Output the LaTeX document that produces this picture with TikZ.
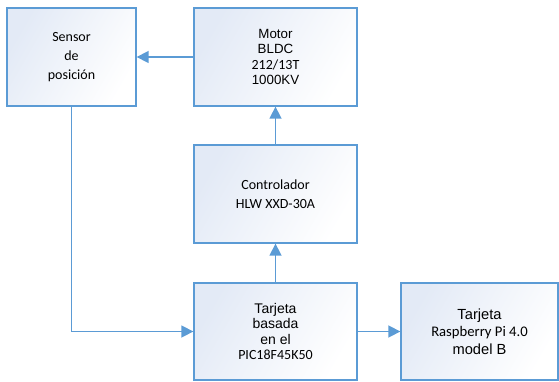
\documentclass[tikz,border=0pt]{standalone}
\usepackage{fontspec}
\setmainfont{Carlito}
\newfontfamily\arialf{Liberation Sans}
\usetikzlibrary{arrows.meta}
\definecolor{edgeblue}{HTML}{5B9BD5}
\definecolor{fillblue}{HTML}{E3EAF6}
\tikzset{
  blockbox/.style={draw=edgeblue, line width=1pt, left color=fillblue, right color=white, shading angle=60, align=center, inner sep=0pt, text=black},
  conn/.style={draw=edgeblue, line width=1.2pt, -{Triangle[length=9pt,width=9pt]}},
}
\begin{document}
\begin{tikzpicture}[x=0.75pt,y=-0.75pt]
\useasboundingbox (0,0) rectangle (559,381);
\node[blockbox, minimum width=129*0.75pt, minimum height=98*0.75pt, font=\fontsize{10.5}{14.3}\selectfont] (sensor) at (71.5,57) {Sensor\\de\\posición};
\node[blockbox, minimum width=163*0.75pt, minimum height=98*0.75pt, font=\arialf\fontsize{10}{11.3}\selectfont] (motor) at (275.5,57) {Motor\\BLDC\\\rmfamily\fontsize{10.5}{11.3}\selectfont 212/13T\\1000KV};
\node[blockbox, minimum width=163*0.75pt, minimum height=98*0.75pt, font=\fontsize{10.5}{14.3}\selectfont] (ctrl) at (275.5,194) {Controlador\\HLW XXD-30A};
\node[blockbox, minimum width=163*0.75pt, minimum height=97*0.75pt, font=\arialf\fontsize{10.5}{11.6}\selectfont] (pic) at (275.5,331.5) {Tarjeta\\basada\\en el\\\rmfamily PIC18F45K50};
\node[blockbox, minimum width=157*0.75pt, minimum height=97*0.75pt, font=\arialf\fontsize{11}{13.2}\selectfont] (rasp) at (479.5,331.5) {Tarjeta\\\rmfamily Raspberry Pi 4.0\\model B};
\draw[conn] (motor.west) -- (sensor.east);
\draw[conn] (ctrl.north) -- (motor.south);
\draw[conn] (pic.north) -- (ctrl.south);
\draw[conn] (sensor.south) |- (pic.west);
\draw[conn] (pic.east) -- (rasp.west);
\end{tikzpicture}
\end{document}
